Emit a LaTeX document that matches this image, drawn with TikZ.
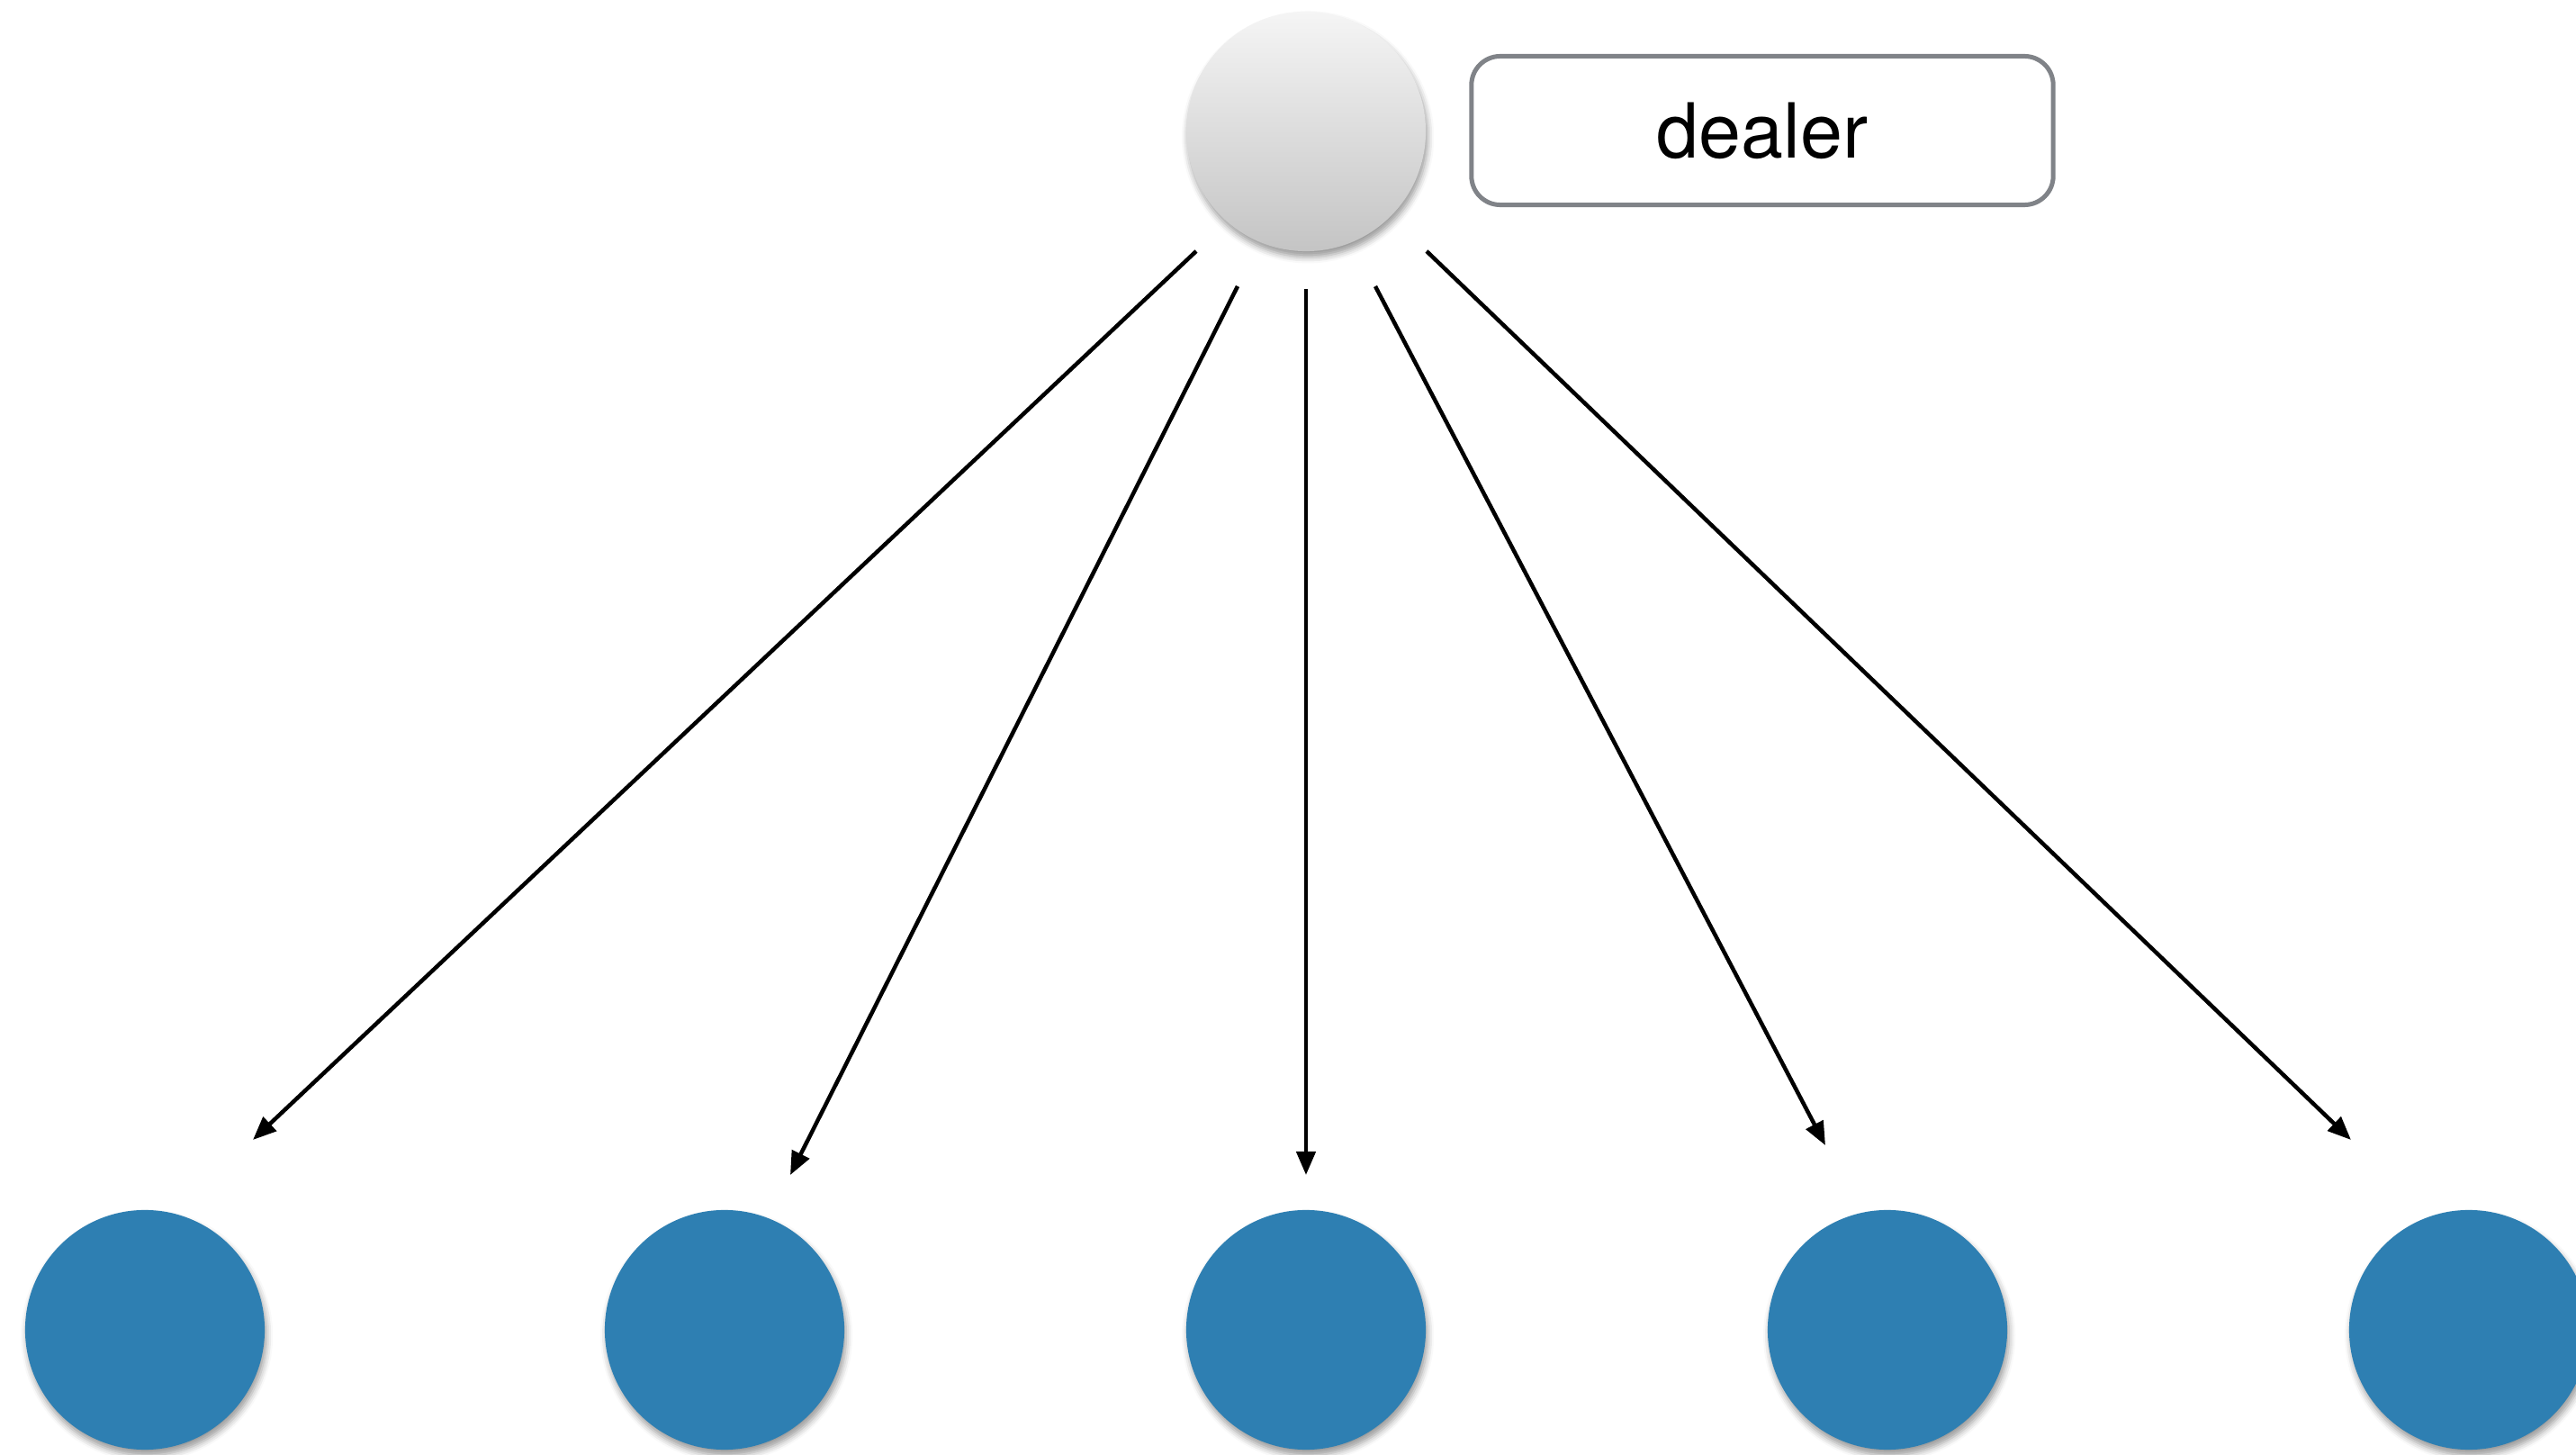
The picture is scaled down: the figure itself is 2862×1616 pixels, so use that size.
\documentclass[tikz,border=0pt]{standalone}
\usepackage{fontspec}
\setmainfont{TeX Gyre Heros}
\usetikzlibrary{arrows.meta,shadows.blur}

\definecolor{partyblue}{RGB}{46,127,178}
\definecolor{boxgray}{RGB}{128,131,136}

\tikzset{
  party/.style={circle, minimum size=2.66cm, inner sep=0pt, fill=partyblue,
    blur shadow={shadow xshift=0.6pt, shadow yshift=-1.8pt, shadow blur radius=2pt, shadow opacity=40}},
  dealerdot/.style={circle, minimum size=2.66cm, inner sep=0pt,
    top color=white!96!black, bottom color=white!77!black,
    blur shadow={shadow xshift=0.6pt, shadow yshift=-1.8pt, shadow blur radius=2pt, shadow opacity=40}},
  labelbox/.style={draw=boxgray, line width=0.05cm, rounded corners=0.32cm,
    minimum width=6.46cm, minimum height=1.65cm, inner sep=0pt, font=\fontsize{24}{28}\selectfont},
  deal/.style={line width=0.045cm, -{Triangle[length=0.26cm, width=0.21cm]}}
}

\begin{document}
\begin{tikzpicture}[x=0.01cm, y=-0.01cm]
  \useasboundingbox (0,0) rectangle (2862,1616);
  \clip (0,0) rectangle (2862,1616);

  % dealer and its label
  \node[dealerdot] (dealer) at (1451,146) {};
  \node[labelbox] (lbl) at (1958,145) {dealer};

  % receiving parties
  \node[party] (p1) at (161,1477) {};
  \node[party] (p2) at (805,1477) {};
  \node[party] (p3) at (1451,1477) {};
  \node[party] (p4) at (2097,1477) {};
  \node[party] (p5) at (2743,1477) {};

  % arrow ends: they start a little below the dealer and stop short of the parties
  \coordinate (s1) at (1329,279);
  \coordinate (s2) at (1375,318);
  \coordinate (s3) at (1451,321);
  \coordinate (s4) at (1528,318);
  \coordinate (s5) at (1585,279);
  \coordinate (t1) at (281,1266);
  \coordinate (t2) at (878,1305);
  \coordinate (t3) at (1451,1305);
  \coordinate (t4) at (2028,1272);
  \coordinate (t5) at (2612,1266);

  \foreach \i in {1,...,5}
    \draw[deal] (s\i) -- (t\i);
\end{tikzpicture}
\end{document}
